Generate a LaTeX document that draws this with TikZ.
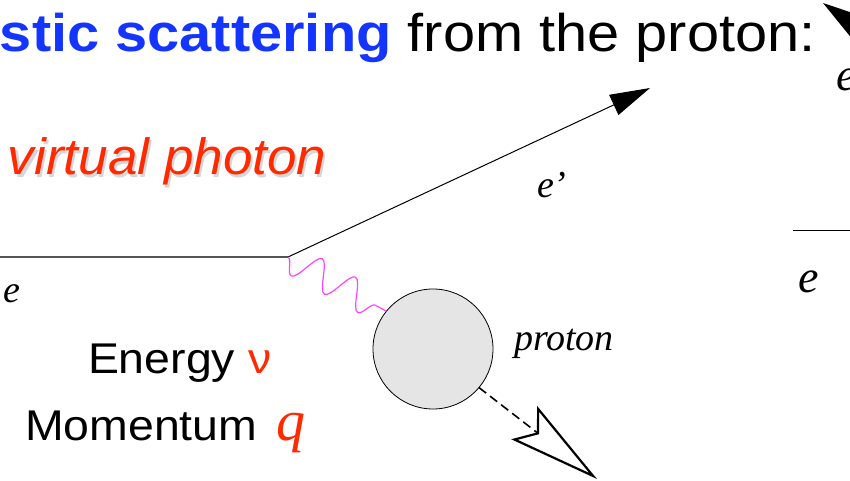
\documentclass[tikz,border=0pt]{standalone}
\usepackage{graphicx}
\usepackage{fontspec}
\setmainfont{Liberation Serif}
\setsansfont{Liberation Sans}
\usetikzlibrary{arrows.meta,decorations.pathmorphing}
\definecolor{azul}{HTML}{1434FF}
\definecolor{rojo}{HTML}{FF2A00}
\definecolor{rosa}{HTML}{FF44FF}
\definecolor{gris}{HTML}{555555}
\definecolor{grisclaro}{HTML}{E5E5E5}
\newcommand{\ancho}[2]{\scalebox{#1}[1]{#2}}

\begin{document}
\begin{tikzpicture}[x=1pt, y=-1pt, inner sep=0pt, outer sep=0pt,
    titulo/.style={anchor=base west, font=\sffamily\fontsize{53}{60}\selectfont},
    grande/.style={anchor=base west, font=\sffamily\fontsize{43}{50}\selectfont},
    etiq/.style={anchor=base west, font=\itshape\fontsize{38}{42}\selectfont},
    etiqder/.style={anchor=base west, font=\itshape\fontsize{46}{50}\selectfont}]
  \useasboundingbox (0,0) rectangle (850,481);
  \clip (0,0) rectangle (850,481);

  % titulo
  \node[titulo] (titulo) at (0,52)
    {\ancho{1.09}{{\color{azul}\bfseries stic scattering} from the proton:}};
  \node[anchor=base west, text=black!35, opacity=0.45,
        font=\sffamily\itshape\fontsize{51}{56}\selectfont] (sombra) at (10,178)
    {\ancho{1.04}{virtual photon}};
  \node[anchor=base west, text=rojo,
        font=\sffamily\itshape\fontsize{51}{56}\selectfont] (virtual) at (8,175)
    {\ancho{1.04}{virtual photon}};

  % vertice y lineas
  \coordinate (inicio) at (0,257);
  \coordinate (vertice) at (288,257);
  \coordinate (punta) at (650,88);
  \node[circle, draw, fill=grisclaro, line width=0.8pt, minimum size=120pt]
    (proton) at (433,349) {};
  \draw[gris, line width=1.6pt] (inicio) -- (vertice);
  \draw[line width=1pt, -{Triangle[length=40pt,width=22pt]}] (vertice) -- (punta);
  \draw[rosa, line width=1.2pt, decorate,
        decoration={snake, amplitude=-15pt, segment length=38pt}]
    (vertice) -- (proton.141);
  \coordinate (salida) at (597,479);
  \draw[line width=1.6pt, dash pattern=on 9pt off 5pt,
        -{Stealth[open, length=92pt, width=42pt, inset=16pt, line width=2.2pt]}]
    (proton.-40) -- (salida);

  % etiquetas
  \node[etiq] (eizq) at (4,302) {e};
  \node[etiq] (eprima) at (537,197) {e’};
  \node[etiq] (nombre) at (514,350) {proton};
  \node[grande] (energia) at (88,373) {\ancho{1.08}{Energy {\color{rojo}ν}}};
  \node[grande] (momento) at (25,440) {\ancho{1.08}{Momentum}};
  \node[anchor=base west, text=rojo, font=\itshape\fontsize{58}{60}\selectfont]
    (q) at (276,440) {q};

  % diagrama siguiente (cortado)
  \coordinate (izqder) at (793,230);
  \coordinate (finder) at (860,230);
  \draw[line width=1pt] (izqder) -- (finder);
  \node[etiqder] (eder) at (798,292) {e};
  \coordinate (desde) at (905,60);
  \coordinate (arriba) at (823,3);
  \draw[line width=1pt, -{Triangle[length=42pt,width=24pt]}] (desde) -- (arriba);
  \node[etiqder] (earriba) at (836,91) {e};
\end{tikzpicture}
\end{document}
